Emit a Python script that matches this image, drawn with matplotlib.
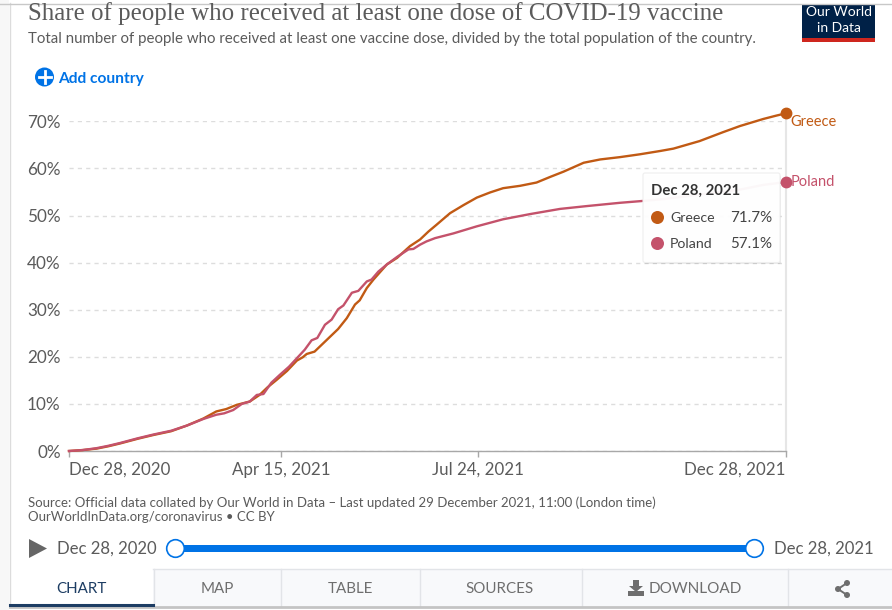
import matplotlib
matplotlib.use("Agg")
import matplotlib.pyplot as plt
from matplotlib.patches import Rectangle, Circle, Polygon, FancyBboxPatch

plt.rcParams['font.family'] = ['Lato', 'DejaVu Sans']

W, H = 892, 610
GREECE_COLOR = '#c15a14'
POLAND_COLOR = '#c4526b'
TEXT = '#5b5b5b'
BLUE = '#0073e6'

# days since Dec 28, 2020 and share of people with at least one dose (%)
greece_days = [0, 7, 14, 20, 26, 35, 43, 52, 60, 68.4, 75, 80, 85.4, 92, 97, 101, 105.7, 111, 116,
               119, 121, 125, 129, 133, 137, 141.4, 145.6, 148, 151.6, 155, 161.8, 167, 173.6,
               178.7, 183, 187, 194, 200.8, 207.6, 214.4, 221, 229.6, 238, 245, 251.7, 262,
               270.4, 280.6, 290.7, 301, 307.7, 321, 333, 341.6, 353.5, 360, 365]
greece_vals = [0, 0.2, 0.5, 1.0, 1.6, 2.6, 3.4, 4.2, 5.4, 6.9, 8.4, 8.9, 9.8, 10.5, 11.9, 13.5,
               15.1, 17.0, 19.2, 19.9, 20.6, 21.1, 22.7, 24.3, 25.9, 28.2, 31.1, 32.0, 34.6,
               36.4, 39.6, 41.0, 43.5, 44.9, 46.6, 48.0, 50.5, 52.2, 53.8, 54.9, 55.8, 56.3,
               57.0, 58.2, 59.3, 61.2, 61.9, 62.4, 63.0, 63.7, 64.2, 65.8, 67.7, 69.0, 70.5,
               71.2, 71.7]
poland_days = [0, 7, 14, 20, 26, 35, 43, 52, 60, 68.4, 75, 79, 83.6, 88, 92, 95.6, 99, 103, 107.4,
               112, 116, 120, 123.5, 126.4, 130.3, 133.7, 137, 139.7, 144, 147.3, 151.6, 154,
               157.5, 161.8, 167, 172.8, 175.3, 178.7, 182, 186.4, 195.7, 207.6, 221, 234.7,
               250, 263.6, 280.6, 292.4, 303, 320, 341.6, 353.5, 365]
poland_vals = [0, 0.2, 0.6, 1.1, 1.7, 2.7, 3.5, 4.3, 5.4, 6.8, 7.7, 8.0, 8.7, 10.0, 10.5, 11.9,
               12.1, 14.5, 16.2, 17.9, 19.7, 21.5, 23.5, 24.0, 26.8, 27.9, 30.1, 30.9, 33.6,
               34.0, 36.0, 36.4, 38.1, 39.6, 41.2, 42.8, 42.9, 43.8, 44.5, 45.2, 46.2, 47.7,
               49.2, 50.3, 51.4, 52.0, 52.7, 53.1, 53.5, 54.4, 55.5, 56.5, 57.1]

x_ticks = [0, 108, 208, 365]
x_labels = ['Dec 28, 2020', 'Apr 15, 2021', 'Jul 24, 2021', 'Dec 28, 2021']
y_ticks = [0, 10, 20, 30, 40, 50, 60, 70]
y_labels = ['0%', '10%', '20%', '30%', '40%', '50%', '60%', '70%']
tab_names = ['MAP', 'TABLE', 'SOURCES']
tab_centers = [217, 350, 500]
tab_edges = [153, 280, 419, 581, 787]


def px_box(x0, y0, x1, y1):
    return [x0 / W, 1 - y1 / H, (x1 - x0) / W, (y1 - y0) / H]


fig = plt.figure(figsize=(W / 100, H / 100), dpi=100, facecolor='white')

# chart
ax = fig.add_axes(px_box(69, 121.3, 786, 451))
ax.patch.set_alpha(0)
ax.set_xlim(0, 365)
ax.set_ylim(0, 70)
ax.axvline(365, color='#e6e6e6', lw=1.5, ymax=71.7 / 70, clip_on=False, zorder=1)
ax.plot(greece_days, greece_vals, color=GREECE_COLOR, lw=1.7, clip_on=False, zorder=3)
ax.plot(poland_days, poland_vals, color=POLAND_COLOR, lw=1.7, clip_on=False, zorder=3)
ax.plot([365], [71.7], 'o', color=GREECE_COLOR, ms=7.5, clip_on=False, zorder=4)
ax.plot([365], [57.1], 'o', color=POLAND_COLOR, ms=7.5, clip_on=False, zorder=4)
ax.set_xticks(x_ticks)
ax.set_xticklabels(x_labels, fontsize=12.15, color=TEXT)
ax.get_xticklabels()[0].set_ha('left')
ax.get_xticklabels()[-1].set_ha('right')
ax.set_yticks(y_ticks)
ax.set_yticklabels(y_labels, fontsize=12.3, color=TEXT)
ax.tick_params(axis='x', length=4, color='#a8a8a8', width=1, pad=4)
ax.tick_params(axis='y', length=0, pad=6)
ax.grid(axis='y', color='#dddddd', ls=(0, (3, 3)), lw=1)
ax.set_axisbelow(True)
for side in ['top', 'right', 'left']:
    ax.spines[side].set_visible(False)
ax.spines['bottom'].set_color('#a8a8a8')
ax.spines['bottom'].set_linewidth(1)
ax.annotate('Greece', (365, 71.7), xytext=(3.2, -1.3), textcoords='offset points', color=GREECE_COLOR,
            fontsize=10.5, va='top', ha='left', annotation_clip=False)
ax.annotate('Poland', (365, 57.1), xytext=(3.2, 0), textcoords='offset points', color=POLAND_COLOR,
            fontsize=10.5, va='center', ha='left', annotation_clip=False)

# page furniture, drawn in pixel coordinates
ov = fig.add_axes([0, 0, 1, 1])
ov.set_xlim(0, W)
ov.set_ylim(H, 0)
ov.axis('off')
ov.patch.set_alpha(0)

ov.add_patch(Rectangle((0, 0), 9, H, color='#f7f7f7', lw=0))
ov.plot([9.5, 9.5], [3, 606], color='#dcdcdc', lw=1)
ov.plot([0, W], [3.5, 3.5], color='#c8c8c8', lw=1)

ov.text(28, 14, 'Share of people who received at least one dose of COVID-19 vaccine',
        family=['Liberation Serif', 'DejaVu Serif'], fontsize=17.95, color='#5b5b5b', va='center')
ov.text(28, 39, 'Total number of people who received at least one vaccine dose, divided by the total population of the country.',
        fontsize=10.77, color=TEXT, va='center')

# logo
ov.add_patch(Rectangle((802, 4), 73, 33.5, color='#002147', lw=0))
ov.add_patch(Rectangle((802, 37.5), 73, 4.5, color='#ce261e', lw=0))
ov.text(838.5, 12, 'Our World', color='white', fontsize=10, ha='center', va='center')
ov.text(838.5, 28, 'in Data', color='white', fontsize=10, ha='center', va='center')

# add country
ov.add_patch(Circle((44.5, 77), 9.5, color=BLUE, lw=0))
ov.plot([38.5, 50.5], [77, 77], color='white', lw=2)
ov.plot([44.5, 44.5], [71, 83], color='white', lw=2)
ov.text(58.5, 78.5, 'Add country', color=BLUE, fontsize=11.15, fontweight='bold', va='center')

# tooltip
ov.add_patch(FancyBboxPatch((644, 175), 137, 89, boxstyle='round,pad=0,rounding_size=2',
                            fc='black', ec='none', alpha=0.08))
ov.add_patch(FancyBboxPatch((643, 173), 137, 89.5, boxstyle='round,pad=0,rounding_size=2',
                            fc='white', ec='#eeeeee', lw=0.8, alpha=0.96))
ov.text(651, 191, 'Dec 28, 2021', fontsize=10.7, fontweight='bold', color='#333333', va='center')
ov.add_patch(Circle((657.5, 217.5), 6.5, color=GREECE_COLOR, lw=0))
ov.add_patch(Circle((657.5, 243.5), 6.5, color=POLAND_COLOR, lw=0))
ov.text(670, 218, 'Greece', fontsize=10.2, color='#444444', va='center')
ov.text(670, 244, 'Poland', fontsize=10.2, color='#444444', va='center')
ov.text(772, 218, '71.7%', fontsize=10.9, color='#444444', va='center', ha='right')
ov.text(772, 244, '57.1%', fontsize=10.9, color='#444444', va='center', ha='right')

# source
ov.text(28, 503, 'Source: Official data collated by Our World in Data – Last updated 29 December 2021, 11:00 (London time)',
        fontsize=9.5, color=TEXT, va='center')
ov.text(28, 517, 'OurWorldInData.org/coronavirus • CC BY', fontsize=9.5, color=TEXT, va='center')

# timeline
ov.add_patch(Polygon([(29, 539), (29, 558), (47, 548.5)], color='#666666', lw=0))
ov.text(57, 549, 'Dec 28, 2020', fontsize=12.05, color=TEXT, va='center')
ov.text(774, 549, 'Dec 28, 2021', fontsize=12.05, color=TEXT, va='center')
ov.add_patch(Rectangle((175, 545), 580, 6.5, color=BLUE, lw=0))
for cx in [175.5, 754.5]:
    ov.add_patch(Circle((cx, 548.5), 8.8, fc='white', ec=BLUE, lw=1.2, zorder=3))

# tabs
ov.add_patch(Rectangle((153, 569), W - 153, 37, fc='#f8f9fb', ec='none'))
ov.plot([153, W], [568.5, 568.5], color='#e2e4e8', lw=1)
for edge in tab_edges:
    ov.plot([edge + 0.5, edge + 0.5], [569, 606], color='#e2e4e8', lw=1)
ov.plot([10, W], [606.5, 606.5], color='#c4c4c4', lw=2)
ov.plot([10, 153], [605, 605], color='#1d3d63', lw=2.2)
ov.text(81.5, 589, 'CHART', fontsize=10.9, color='#1d3d63', ha='center', va='center')
for name, cx in zip(tab_names, tab_centers):
    ov.text(cx, 589, name, fontsize=10.9, color='#6e6e6e', ha='center', va='center')
ov.text(649, 589, 'DOWNLOAD', fontsize=10.95, color='#6e6e6e', va='center')

# download icon
ov.add_patch(Polygon([(633, 580), (639, 580), (639, 586), (643, 586), (636, 592), (629, 586), (633, 586)],
                     color='#6e6e6e', lw=0))
ov.add_patch(Rectangle((628, 591), 16, 5, color='#6e6e6e', lw=0))

# share icon
ov.plot([847, 838, 847], [583, 589, 595], color='#6e6e6e', lw=1.4)
for cx, cy in [(847, 583), (838, 589), (847, 595)]:
    ov.add_patch(Circle((cx, cy), 3, color='#6e6e6e', lw=0))

fig.savefig('out.png', dpi=100)
